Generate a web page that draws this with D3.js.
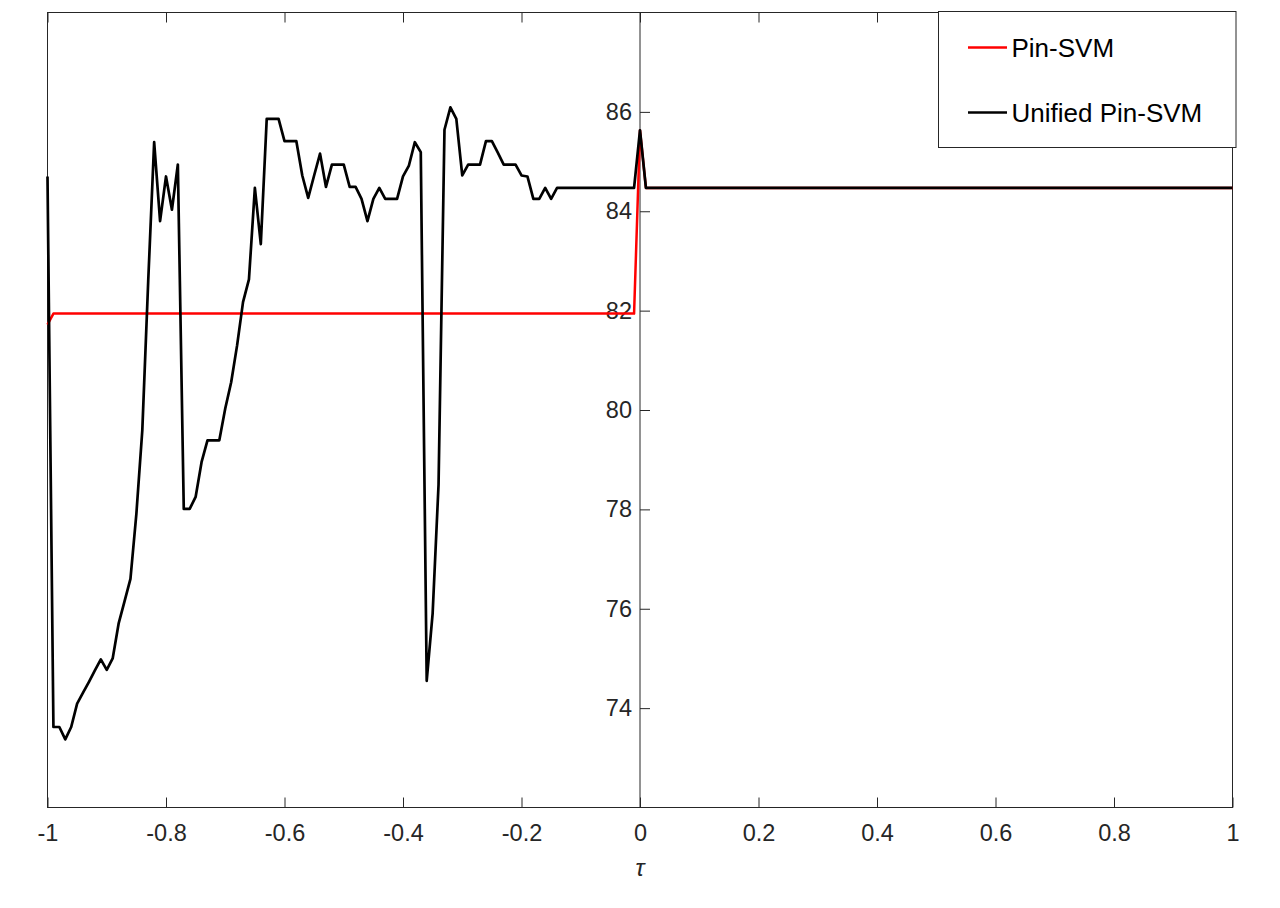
<!DOCTYPE html>
<html>
<head>
<meta charset="utf-8">
<script src="https://cdn.jsdelivr.net/npm/d3@7"></script>
<style>
  html, body { margin: 0; padding: 0; background: #fff; }
  svg { display: block; font-family: "Liberation Sans", Arial, sans-serif; }
</style>
</head>
<body>
<svg id="chart" width="1280" height="908"></svg>
<script>
// tau grid and accuracy values
const tauUnified = [
  -1.00, -0.99, -0.98, -0.97, -0.96, -0.95, -0.94, -0.93, -0.92, -0.91,
  -0.90, -0.89, -0.88, -0.87, -0.86, -0.85, -0.84, -0.83, -0.82, -0.81,
  -0.80, -0.79, -0.78, -0.77, -0.76, -0.75, -0.74, -0.73, -0.72, -0.71,
  -0.70, -0.69, -0.68, -0.67, -0.66, -0.65, -0.64, -0.63, -0.62, -0.61,
  -0.60, -0.59, -0.58, -0.57, -0.56, -0.55, -0.54, -0.53, -0.52, -0.51,
  -0.50, -0.49, -0.48, -0.47, -0.46, -0.45, -0.44, -0.43, -0.42, -0.41,
  -0.40, -0.39, -0.38, -0.37, -0.36, -0.35, -0.34, -0.33, -0.32, -0.31,
  -0.30, -0.29, -0.28, -0.27, -0.26, -0.25, -0.24, -0.23, -0.22, -0.21,
  -0.20, -0.19, -0.18, -0.17, -0.16, -0.15, -0.14, -0.01, 0.00, 0.01, 1.00
]
const accUnified = [
  84.70, 73.62, 73.62, 73.37, 73.62, 74.09, 74.31, 74.53, 74.76, 74.98,
  74.77, 75.00, 75.70, 76.15, 76.60, 77.91, 79.59, 82.60, 85.39, 83.80,
  84.70, 84.03, 84.94, 78.01, 78.01, 78.25, 78.95, 79.39, 79.39, 79.39,
  80.03, 80.56, 81.30, 82.17, 82.63, 84.47, 83.34, 85.86, 85.86, 85.86,
  85.41, 85.41, 85.41, 84.72, 84.27, 84.72, 85.16, 84.49, 84.94, 84.94,
  84.94, 84.49, 84.49, 84.25, 83.80, 84.25, 84.47, 84.25, 84.25, 84.25,
  84.70, 84.92, 85.39, 85.19, 74.55, 75.90, 78.50, 85.64, 86.09, 85.86,
  84.72, 84.94, 84.94, 84.94, 85.41, 85.41, 85.18, 84.94, 84.94, 84.94,
  84.72, 84.70, 84.25, 84.25, 84.47, 84.25, 84.47, 84.47, 85.63, 84.47, 84.47
]

const tauPin = [-1.00, -0.99, -0.01, 0.00, 0.01, 1.00]
const accPin = [81.72, 81.94, 81.94, 85.63, 84.47, 84.47]

const xTicks = [-1, -0.8, -0.6, -0.4, -0.2, 0, 0.2, 0.4, 0.6, 0.8, 1]
const yTicks = [74, 76, 78, 80, 82, 84, 86]

const seriesNames = ["Pin-SVM", "Unified Pin-SVM"]
const seriesColors = ["#ff0000", "#000000"]

const axisColor = "#262626"

const svg = d3.select("#chart")

const x = d3.scaleLinear().domain([-1, 1]).range([47.5, 1232.5])
const y = d3.scaleLinear().domain([72, 88]).range([807.5, 12.5])

// bottom axis, ticks pointing inward
const xAxis = svg.append("g")
  .attr("transform", "translate(0," + y(72) + ")")
  .call(d3.axisBottom(x).tickValues(xTicks).tickSize(-10).tickPadding(17)
    .tickFormat(d => String(+d.toFixed(1))))
xAxis.select(".domain").remove()
xAxis.selectAll(".tick line").attr("stroke", axisColor)
xAxis.selectAll(".tick text")
  .attr("fill", axisColor)
  .style("font-size", "23.5px")
  .style("font-family", '"Liberation Sans", Arial, sans-serif')

// top ticks (box)
const xTop = svg.append("g")
  .attr("transform", "translate(0," + y(88) + ")")
  .call(d3.axisTop(x).tickValues(xTicks).tickSize(-10).tickFormat(""))
xTop.select(".domain").remove()
xTop.selectAll(".tick line").attr("stroke", axisColor)

// box
svg.append("rect")
  .attr("x", x(-1)).attr("y", y(88))
  .attr("width", x(1) - x(-1)).attr("height", y(72) - y(88))
  .attr("fill", "none")
  .attr("stroke", axisColor)
  .attr("stroke-width", 1)

// y axis through the origin
const yAxis = svg.append("g")
  .attr("transform", "translate(" + x(0) + ",0)")
  .call(d3.axisLeft(y).tickValues(yTicks).tickSize(-10).tickPadding(8)
    .tickFormat(d => String(d)))
yAxis.select(".domain").remove()
yAxis.selectAll(".tick line").attr("stroke", axisColor)
yAxis.selectAll(".tick text")
  .attr("fill", axisColor)
  .style("font-size", "23.5px")
  .style("font-family", '"Liberation Sans", Arial, sans-serif')

svg.append("line")
  .attr("x1", x(0)).attr("x2", x(0))
  .attr("y1", y(88)).attr("y2", y(72))
  .attr("stroke", axisColor)
  .attr("stroke-width", 1)

// x label
svg.append("text")
  .attr("x", x(0))
  .attr("y", 876)
  .attr("text-anchor", "middle")
  .attr("fill", axisColor)
  .style("font-size", "24px")
  .style("font-style", "italic")
  .text("τ")

const line = d3.line()
  .x(d => x(d[0]))
  .y(d => y(d[1]))

svg.append("path")
  .datum(d3.zip(tauPin, accPin))
  .attr("d", line)
  .attr("fill", "none")
  .attr("stroke", seriesColors[0])
  .attr("stroke-width", 2.5)
  .attr("stroke-linejoin", "round")

svg.append("path")
  .datum(d3.zip(tauUnified, accUnified))
  .attr("d", line)
  .attr("fill", "none")
  .attr("stroke", seriesColors[1])
  .attr("stroke-width", 2.7)
  .attr("stroke-linejoin", "round")

// legend
const legend = svg.append("g")
legend.append("rect")
  .attr("x", 938.5).attr("y", 11.5)
  .attr("width", 297.5).attr("height", 136)
  .attr("fill", "#fff")
  .attr("stroke", axisColor)
  .attr("stroke-width", 1)

seriesNames.forEach((name, i) => {
  const ly = 47.5 + i * 65
  legend.append("line")
    .attr("x1", 968).attr("x2", 1007)
    .attr("y1", ly).attr("y2", ly)
    .attr("stroke", seriesColors[i])
    .attr("stroke-width", 2.5)
  legend.append("text")
    .attr("x", 1011.5)
    .attr("y", ly)
    .attr("dy", "0.35em")
    .attr("fill", "#000")
    .style("font-size", "26px")
    .text(name)
})
</script>
</body>
</html>
